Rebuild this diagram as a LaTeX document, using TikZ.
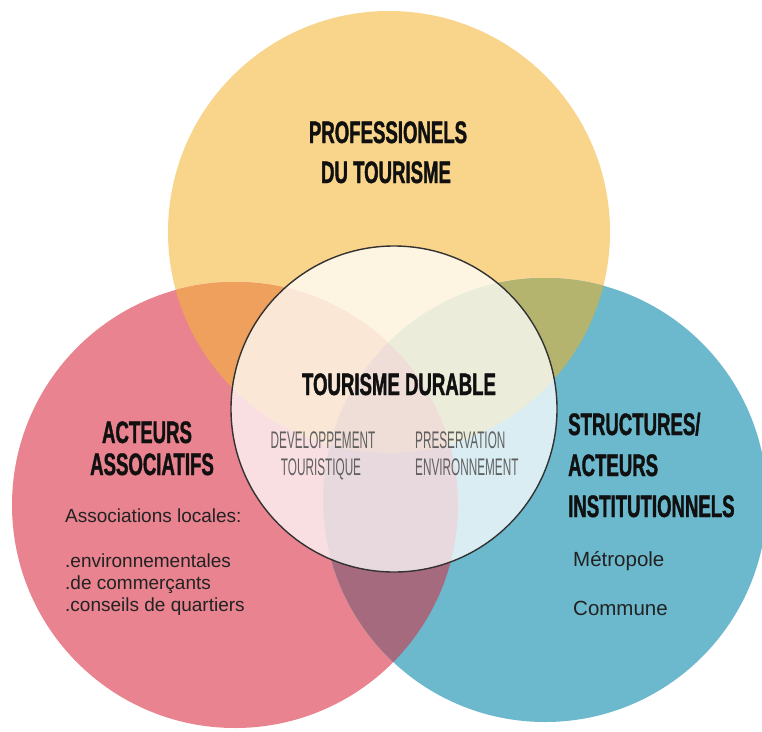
\documentclass[tikz,border=0pt]{standalone}
\usepackage{fontspec}
\setmainfont{Liberation Sans}
\newfontfamily\headfont[FakeStretch=0.6,FakeBold=1.2]{Liberation Sans Bold}
\newfontfamily\thinfont[FakeStretch=0.49]{Liberation Sans}
\newfontfamily\bodyfont{Liberation Sans}
\definecolor{cyellow}{HTML}{F9D48B}
\definecolor{cpink}{HTML}{E8838F}
\definecolor{cblue}{HTML}{6CB8CD}
\definecolor{corange}{HTML}{EFA05C}
\definecolor{colive}{HTML}{B4B46E}
\definecolor{cmauve}{HTML}{A66A7E}
\definecolor{ctriple}{HTML}{C07A66}
\definecolor{ctext}{HTML}{101010}
\definecolor{cthin}{HTML}{606060}
\definecolor{cbody}{HTML}{222222}
\tikzset{
  head/.style={inner sep=0pt, text=ctext, font=\headfont\fontsize{31}{38}\selectfont},
  thin/.style={inner sep=0pt, text=cthin, font=\thinfont\fontsize{24}{28}\selectfont},
  bodyl/.style={inner sep=0pt, text=cbody, anchor=base west, font=\bodyfont\fontsize{19}{22}\selectfont},
  bodyr/.style={inner sep=0pt, text=cbody, anchor=base west, font=\bodyfont\fontsize{20.5}{24}\selectfont},
}
\begin{document}
\begin{tikzpicture}[x=1pt, y=-1pt]
\useasboundingbox (0,0) rectangle (762,731);
\fill[white] (0,0) rectangle (762,731);
\def\Y{(389,232) circle[radius=221pt]}
\def\P{(235,505) circle[radius=223pt]}
\def\B{(545,500) circle[radius=222pt]}
\fill[cyellow] \Y;
\fill[cpink] \P;
\fill[cblue] \B;
\begin{scope}\clip \Y; \fill[corange] \P; \end{scope}
\begin{scope}\clip \Y; \fill[colive] \B; \end{scope}
\begin{scope}\clip \P; \fill[cmauve] \B; \end{scope}
\begin{scope}\clip \Y; \clip \P; \fill[ctriple] \B; \end{scope}
\fill[white, opacity=0.75] (394,409) circle[radius=163pt];
\draw[line width=1.4pt, draw=black!80] (394,409) circle[radius=163pt];
% top circle text
\node[head, anchor=base] (prof1) at (388,143) {PROFESSIONELS};
\node[head, anchor=base] (prof2) at (386,183) {DU TOURISME};
% centre
\node[head, anchor=base] (tdur) at (399,395) {TOURISME DURABLE};
\node[thin, anchor=base] (dev1) at (323,448) {DEVELOPPEMENT};
\node[thin, anchor=base] (dev2) at (321,475) {TOURISTIQUE};
\node[thin, anchor=base west] (pre1) at (415,448) {PRESERVATION};
\node[thin, anchor=base west] (pre2) at (415,475) {ENVIRONNEMENT};
% left
\node[head, anchor=base] (aa1) at (147,443) {ACTEURS};
\node[head, anchor=base] (aa2) at (152,475) {ASSOCIATIFS};
\node[bodyl] (al0) at (65,522) {Associations locales:};
\node[bodyl] (al1) at (65,567) {.environnementales};
\node[bodyl] (al2) at (65,589) {.de commerçants};
\node[bodyl] (al3) at (65,611) {.conseils de quartiers};
% right
\node[head, anchor=base west] (si1) at (568,435) {STRUCTURES/};
\node[head, anchor=base west] (si2) at (568,476) {ACTEURS};
\node[head, anchor=base west] (si3) at (568,517) {INSTITUTIONNELS};
\node[bodyr] (ri1) at (573,566) {Métropole};
\node[bodyr] (ri2) at (573,615) {Commune};
\end{tikzpicture}
\end{document}
